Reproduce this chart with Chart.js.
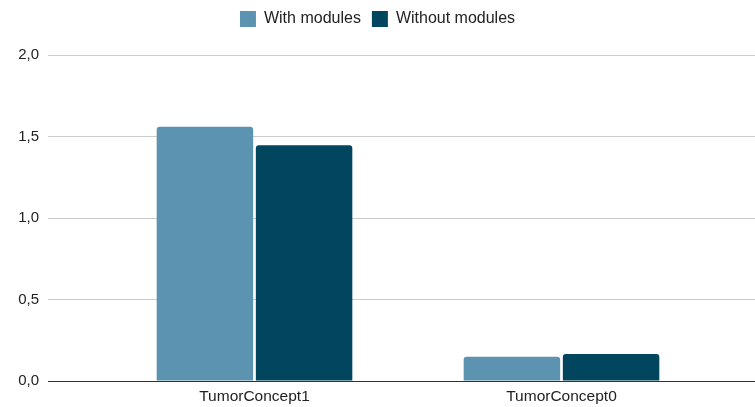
<!DOCTYPE html>
<html>
<head>
<meta charset="utf-8">
<script src="https://cdn.jsdelivr.net/npm/chart.js@4.4.1/dist/chart.umd.min.js"></script>
<style>
  html, body { margin: 0; padding: 0; background: #fff; }
  #wrap { width: 755px; height: 407px; position: relative; }
</style>
</head>
<body>
<div id="wrap"><canvas id="barChart"></canvas></div>
<script>
const categories = ['TumorConcept1', 'TumorConcept0'];
const withModules = [1.56, 0.149];
const withoutModules = [1.446, 0.165];
const yTickLabels = ['0,0', '0,5', '1,0', '1,5', '2,0'];

const fontFamily = "'Liberation Sans', Arial, sans-serif";
const gridColor = ctx => ctx.tick && ctx.tick.value === 0 ? '#333333' : '#cccccc';

// push the plot down a bit below the legend
const legendMargin = {
    id: 'legendMargin',
    beforeInit(chart) {
        const fit = chart.legend.fit;
        chart.legend.fit = function () {
            fit.bind(chart.legend)();
            this.height += 18;
        };
    }
};

const chart = new Chart(document.getElementById('barChart').getContext('2d'), {
    type: 'bar',
    data: {
        labels: categories,
        datasets: [{
            label: 'With modules',
            data: withModules,
            backgroundColor: '#5b93b0',
            borderRadius: { topLeft: 3, topRight: 3 },
            borderSkipped: 'start'
        }, {
            label: 'Without modules',
            data: withoutModules,
            backgroundColor: '#02455f',
            borderRadius: { topLeft: 3, topRight: 3 },
            borderSkipped: 'start'
        }]
    },
    options: {
        responsive: true,
        maintainAspectRatio: false,
        animation: false,
        categoryPercentage: 0.646,
        barPercentage: 0.973,
        layout: { padding: 0 },
        plugins: {
            tooltip: { enabled: false },
            legend: {
                position: 'top',
                labels: {
                    boxWidth: 16,
                    boxHeight: 16,
                    padding: 11,
                    color: '#222',
                    font: { family: fontFamily, size: 16 }
                }
            }
        },
        scales: {
            x: {
                grid: { display: false, drawTicks: false },
                border: { display: false },
                ticks: {
                    padding: 6,
                    color: '#222',
                    font: { family: fontFamily, size: 15.5 }
                },
                afterFit: scale => { scale.height = 26; }
            },
            y: {
                min: 0,
                max: 2,
                border: { display: false },
                grid: { color: gridColor, tickLength: 53 },
                ticks: {
                    stepSize: 0.5,
                    padding: 9,
                    color: '#222',
                    font: { family: fontFamily, size: 15 },
                    callback: (value, index) => yTickLabels[index]
                },
                afterFit: scale => { scale.width = 101; }
            },
            y2: {
                position: 'right',
                min: 0,
                max: 2,
                border: { display: false },
                grid: { color: gridColor, tickLength: 40, drawOnChartArea: false },
                ticks: { stepSize: 0.5, display: false },
                afterFit: scale => { scale.width = 40; }
            }
        }
    },
    plugins: [legendMargin]
});
</script>
</body>
</html>
